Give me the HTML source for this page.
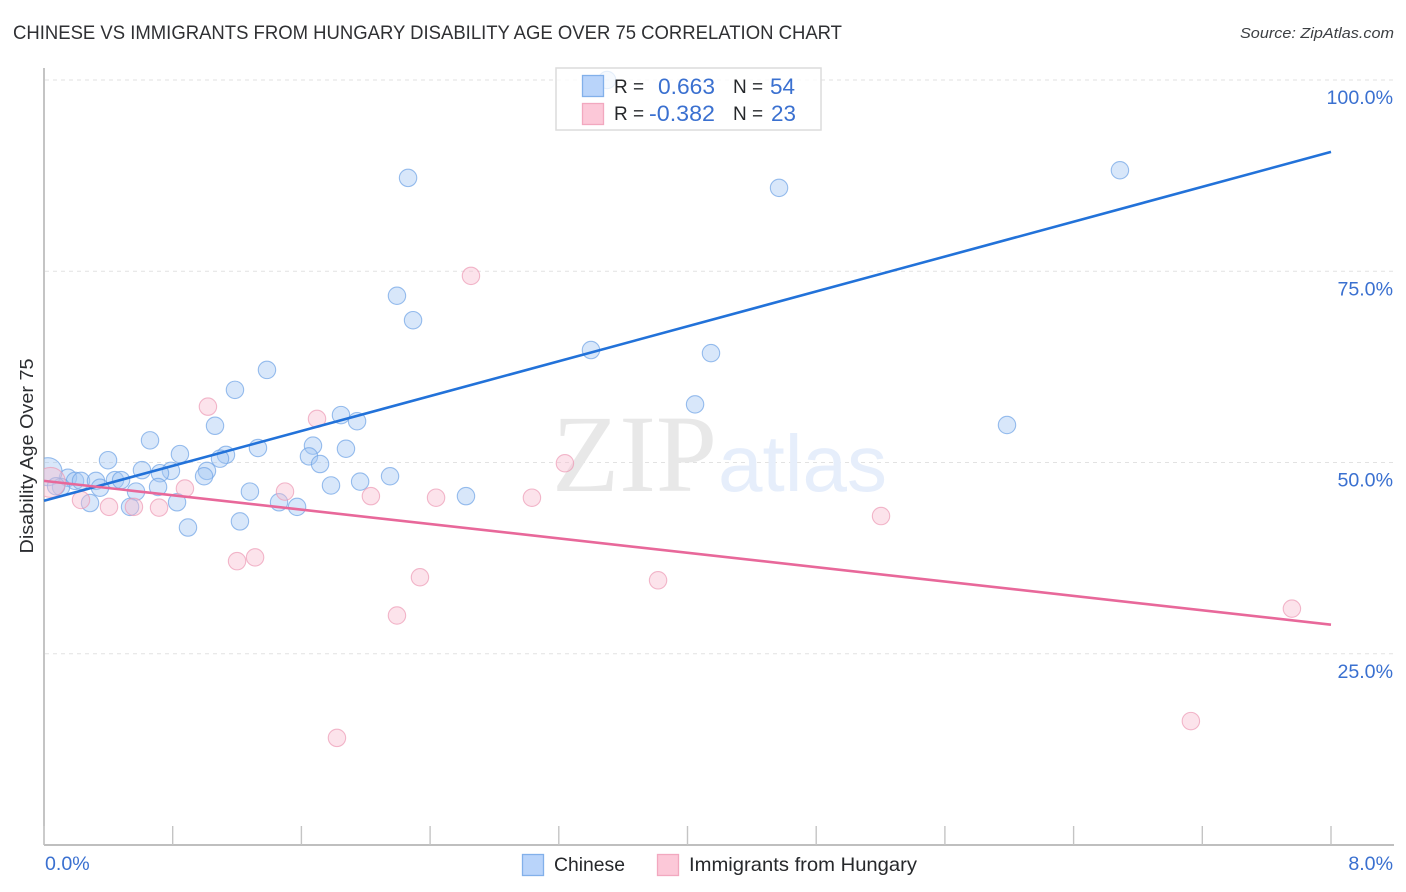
<!DOCTYPE html>
<html lang="en">
<head>
<meta charset="utf-8">
<title>Chinese vs Immigrants from Hungary Disability Age Over 75 Correlation Chart</title>
<style>
html,body{margin:0;padding:0;background:#fff;}
#chart{display:block;width:1406px;height:892px;font-family:"Liberation Sans",sans-serif;}
</style>
</head>
<body>
<svg id="chart" xmlns="http://www.w3.org/2000/svg" width="1406" height="892" viewBox="0 0 1406 892">
  <defs><clipPath id="plot-clip"><rect x="44" y="60" width="1350" height="785"/></clipPath></defs>
  <text x="13" y="39" font-size="19" fill="#2f3033" textLength="829" lengthAdjust="spacingAndGlyphs">CHINESE VS IMMIGRANTS FROM HUNGARY DISABILITY AGE OVER 75 CORRELATION CHART</text>
  <text x="1394" y="38" font-size="15" font-style="italic" fill="#3c3f43" text-anchor="end" textLength="154" lengthAdjust="spacingAndGlyphs">Source: ZipAtlas.com</text>
  <g id="grid"></g>
  <g>
    <text x="552" y="491" font-family="'Liberation Serif',serif" font-size="110" fill="#e8e8e8">ZIP</text>
    <text x="718" y="491" font-size="80" fill="#e6eefb">atlas</text>
  </g>
  <g id="axes"></g>
  <g id="points" clip-path="url(#plot-clip)"></g>
  <g id="trends"></g>
  <g>
    <rect x="556" y="68" width="265" height="62" fill="#ffffff" fill-opacity="0.75" stroke="#dcdcdc" stroke-width="1.5"/>
    <rect x="582.5" y="75.5" width="21" height="21" fill="#b9d4fa" stroke="#82b0ea" stroke-width="1.3"/>
    <rect x="582.5" y="103.5" width="21" height="21" fill="#fcc8d8" stroke="#f2a8bf" stroke-width="1.3"/>
    <text x="614" y="93" font-size="19" fill="#26282b">R =</text>
    <text x="715" y="94" font-size="22" fill="#3a70d0" text-anchor="end" textLength="57" lengthAdjust="spacingAndGlyphs">0.663</text>
    <text x="733" y="93" font-size="19" fill="#26282b">N =</text>
    <text x="795" y="94" font-size="22" fill="#3a70d0" text-anchor="end" textLength="25" lengthAdjust="spacingAndGlyphs">54</text>
    <text x="614" y="120" font-size="19" fill="#26282b">R =</text>
    <text x="715" y="121" font-size="22" fill="#3a70d0" text-anchor="end" textLength="66" lengthAdjust="spacingAndGlyphs">-0.382</text>
    <text x="733" y="120" font-size="19" fill="#26282b">N =</text>
    <text x="796" y="121" font-size="22" fill="#3a70d0" text-anchor="end" textLength="25" lengthAdjust="spacingAndGlyphs">23</text>
  </g>
  <text transform="translate(33,456) rotate(-90)" font-size="18" fill="#2b2d30" text-anchor="middle" textLength="195" lengthAdjust="spacingAndGlyphs">Disability Age Over 75</text>
  <g id="bottom-legend">
    <g>
      <rect x="522.5" y="854.5" width="21" height="21" fill="#b9d4fa" stroke="#82b0ea" stroke-width="1.3"/>
      <text x="554" y="871" font-size="19.5" fill="#26282b" textLength="71" lengthAdjust="spacingAndGlyphs">Chinese</text>
    </g>
    <g>
      <rect x="657.5" y="854.5" width="21" height="21" fill="#fcc8d8" stroke="#f2a8bf" stroke-width="1.3"/>
      <text x="689" y="871" font-size="19.5" fill="#26282b" textLength="228" lengthAdjust="spacingAndGlyphs">Immigrants from Hungary</text>
    </g>
  </g>
</svg>
<script>
const yTicks = [25, 50, 75, 100];
const yTickLabels = ["25.0%", "50.0%", "75.0%", "100.0%"];
const xTicks = [0, 0.8, 1.6, 2.4, 3.2, 4.0, 4.8, 5.6, 6.4, 7.2, 8.0];
const xEdgeTicks = [0, 8];
const xEdgeLabels = ["0.0%", "8.0%"];

const chineseX = [3.50, 2.263, 4.569, 6.688, 2.194, 2.294, 3.400, 4.146, 1.386, 1.187, 4.047, 1.846, 1.946, 5.986, 1.063, 0.659, 1.672, 1.330, 1.877, 0.845, 1.131, 1.647, 1.094, 0.398, 1.716, 0.609, 0.789, 0.721, 1.013, 0.995, 2.151, 0.149, 0.025, 0.193, 0.230, 0.323, 0.441, 0.479, 1.965, 1.784, 0.709, 0.348, 0.106, 0.075, 0.572, 1.280, 2.623, 1.461, 0.286, 0.827, 0.535, 1.573, 1.218, 0.895];
const chineseY = [100, 87.2, 85.9, 88.2, 71.8, 68.6, 64.7, 64.3, 62.1, 59.5, 57.6, 56.2, 55.4, 54.9, 54.8, 52.9, 52.2, 51.9, 51.8, 51.1, 51.0, 50.8, 50.5, 50.3, 49.8, 49.0, 48.9, 48.6, 48.9, 48.2, 48.2, 48.0, 48.8, 47.6, 47.6, 47.6, 47.7, 47.7, 47.5, 47.0, 46.8, 46.7, 46.8, 46.9, 46.2, 46.2, 45.6, 44.8, 44.7, 44.8, 44.2, 44.2, 42.3, 41.5];
const chineseBig = [0.025];

const hungaryX = [0.040, 2.654, 1.019, 1.697, 3.238, 0.876, 1.498, 2.032, 2.437, 3.033, 0.230, 0.404, 0.559, 0.715, 5.203, 1.312, 1.200, 2.337, 3.817, 2.194, 7.757, 7.129, 1.821];
const hungaryY = [47.4, 74.4, 57.3, 55.7, 49.9, 46.6, 46.2, 45.6, 45.4, 45.4, 45.1, 44.2, 44.2, 44.1, 43.0, 37.6, 37.1, 35.0, 34.6, 30.0, 30.9, 16.2, 14.0];
const hungaryBig = [0.040];

const trendX = [0, 8];
const chineseTrend = [45.0, 90.6];
const hungaryTrend = [47.6, 28.8];

const NS = "http://www.w3.org/2000/svg";
const X0 = 44, X1 = 1331, Y0 = 845, Y100 = 80;
function xScale(v) { return X0 + (X1 - X0) * v / 8; }
function yScale(v) { return Y0 - (Y0 - Y100) * v / 100; }
function make(tag, attrs, parent) {
  const el = document.createElementNS(NS, tag);
  for (const k in attrs) el.setAttribute(k, attrs[k]);
  parent.appendChild(el);
  return el;
}

const grid = document.getElementById("grid");
const axes = document.getElementById("axes");
const points = document.getElementById("points");
const trends = document.getElementById("trends");

yTicks.forEach(function (t, i) {
  const line = make("line", { x1: 45, x2: 1394, y1: yScale(t), y2: yScale(t), stroke: "#e2e2e2", "stroke-width": 1, "stroke-dasharray": "4 4" }, grid);
  
  
  const label = make("text", { x: 1393, y: yScale(t) + 24, "font-size": 19.6, fill: "#3a70d0", "text-anchor": "end" }, axes);
  label.textContent = yTickLabels[i];
  
  
});

const yAxis = make("line", { x1: X0, x2: X0, y1: 68, y2: Y0, stroke: "#aaaaaa", "stroke-width": 1.4 }, axes);


const xAxis = make("line", { x1: X0, x2: 1394, y1: Y0, y2: Y0, stroke: "#aaaaaa", "stroke-width": 1.4 }, axes);



xTicks.forEach(function (t) {
  const tick = make("line", { x1: xScale(t), x2: xScale(t), y1: 826, y2: Y0, stroke: "#c4c4c4", "stroke-width": 1.4 }, axes);
  
  
});

xEdgeTicks.forEach(function (t, i) {
  const label = make("text", { x: i === 0 ? xScale(t) + 1 : 1393, y: 870, "font-size": 19.6, fill: "#3a70d0", "text-anchor": i === 0 ? "start" : "end" }, axes);
  label.textContent = xEdgeLabels[i];
  
  
});

chineseX.forEach(function (v, i) {
  const big = chineseBig.indexOf(v) >= 0;
  const c = make("circle", { cx: xScale(v), cy: yScale(chineseY[i]), r: big ? 14 : 8.7, fill: "#a3c6f3", "fill-opacity": 0.42, stroke: "#6ea2e6", "stroke-opacity": 0.7, "stroke-width": 1.1 }, points);
  
  
});

hungaryX.forEach(function (v, i) {
  const big = hungaryBig.indexOf(v) >= 0;
  const c = make("circle", { cx: xScale(v), cy: yScale(hungaryY[i]), r: big ? 15 : 8.7, fill: "#f8bdd0", "fill-opacity": 0.42, stroke: "#ec9ab5", "stroke-opacity": 0.7, "stroke-width": 1.1 }, points);
  
  
});

const chineseLine = make("line", { x1: xScale(trendX[0]), y1: yScale(chineseTrend[0]), x2: xScale(trendX[1]), y2: yScale(chineseTrend[1]), stroke: "#2272d9", "stroke-width": 2.6 }, trends);


const hungaryLine = make("line", { x1: xScale(trendX[0]), y1: yScale(hungaryTrend[0]), x2: xScale(trendX[1]), y2: yScale(hungaryTrend[1]), stroke: "#e8689a", "stroke-width": 2.6 }, trends);


</script>
</body>
</html>
